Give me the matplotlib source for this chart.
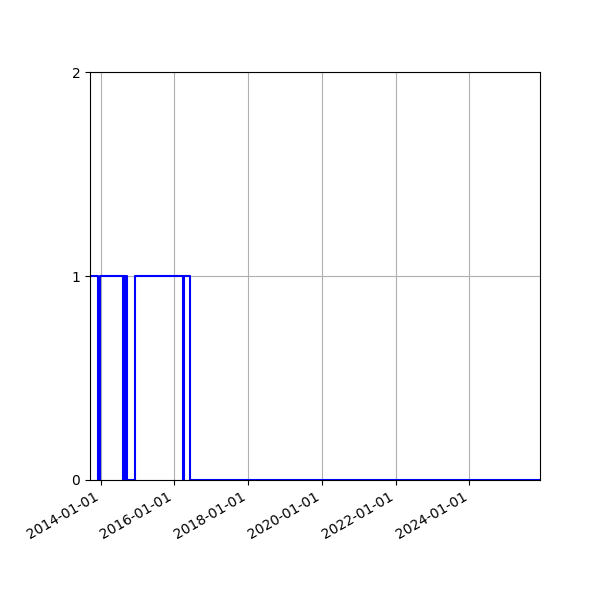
import pandas as pd
import matplotlib
matplotlib.use('Agg')
import matplotlib.pyplot as plt
import matplotlib.dates as mdates

# state changes (steps-post): date when the value becomes the given state
change_dates = ['2013-09-18', '2013-12-07', '2013-12-27',
                '2014-08-15', '2014-08-25', '2014-09-01', '2014-09-08', '2014-09-15',
                '2014-12-07', '2016-03-27', '2016-04-05', '2016-06-02', '2025-12-01']
states = [1, 0, 1,
          0, 1, 0, 1, 0,
          1, 0, 1, 0, 0]

dates = pd.to_datetime(change_dates)

fig, ax = plt.subplots(figsize=(6, 6), dpi=100)
ax.plot(dates, states, color='b', linewidth=1.5, drawstyle='steps-post')

ax.set_xlim(dates[0], dates[-1])
ax.set_ylim(0, 2)
ax.set_yticks([0, 1, 2])

ax.xaxis.set_major_locator(mdates.YearLocator(2))
ax.xaxis.set_major_formatter(mdates.DateFormatter('%Y-%m-%d'))
ax.grid(True)

fig.autofmt_xdate()
fig.subplots_adjust(left=0.15, right=0.9, top=0.88, bottom=0.2)

plt.savefig('out.png', dpi=100)
